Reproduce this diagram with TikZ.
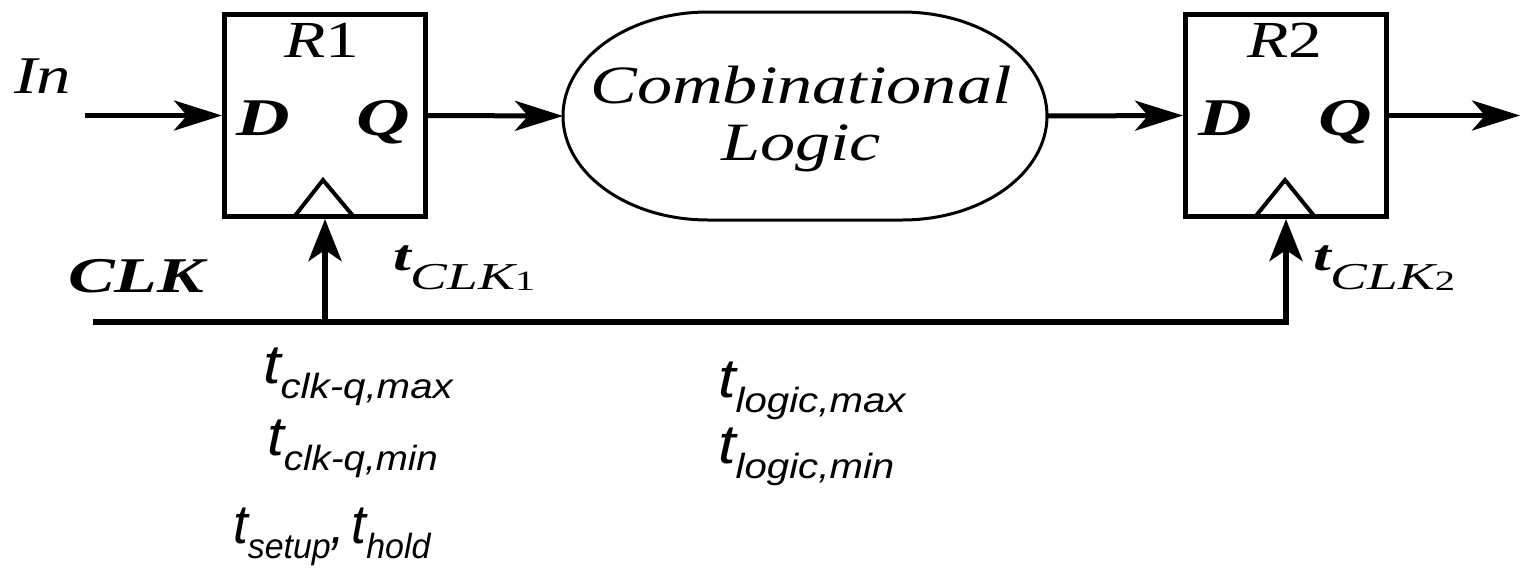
\documentclass[tikz,border=0pt]{standalone}
\usepackage{fontspec}
\setmainfont{Liberation Serif}
\newfontfamily\sansfam{Liberation Sans}
\usetikzlibrary{arrows.meta,calc}
\newcommand\sx[2]{\scalebox{#1}[1]{#2}}
\newcommand\fs[1]{\fontsize{#1}{#1}\selectfont}
\newcommand\tlab[1]{{\fs{55}t}\raisebox{-15pt}{\fs{35}#1}}
\begin{document}
\begin{tikzpicture}[x=1pt,y=-1pt,
  reg/.style={draw, line width=5pt, minimum width=201pt, minimum height=202pt, inner sep=0pt, line join=miter},
  txt/.style={inner sep=0pt, outer sep=0pt},
  wire/.style={line width=5pt, -{Stealth[length=48pt,width=30pt,inset=13pt]}},
  clkw/.style={line width=6pt, line join=miter, -{Stealth[length=42pt,width=33pt,inset=11pt]}},
  tri/.style={line width=4pt, line join=miter},
  oval/.style={line width=3pt},
]
\useasboundingbox (0,0) rectangle (1520,576);

% registers
\node[reg] (r1) at (325,115.5) {};
\node[reg] (r2) at (1286,115.5) {};
% combinational logic shape
\node[txt, minimum width=484pt, minimum height=208pt] (logic) at (805,116) {};
\draw[oval] ([xshift=145pt]logic.north west) -- ([xshift=-145pt]logic.north east)
  arc[start angle=-90,end angle=90,x radius=145,y radius=104]
  -- ([xshift=145pt]logic.south west)
  arc[start angle=90,end angle=270,x radius=145,y radius=104] -- cycle;

% clock triangles
\draw[tri] ($(r1.south)+(-31,-2)$) -- ($(r1.south)+(-2,-39)$) -- ($(r1.south)+(29,-2)$);
\draw[tri] ($(r2.south)+(-31,-2)$) -- ($(r2.south)+(-1,-39)$) -- ($(r2.south)+(29,-2)$);

% texts in the blocks
\node[txt, anchor=base] (r1name) at (322,57) {\sx{1.3}{\fs{52}\itshape R\upshape 1}};
\node[txt, anchor=base] (r2name) at (1285,57) {\sx{1.3}{\fs{52}\itshape R\upshape 2}};
\node[txt, anchor=base] (r1d) at (263,135) {\sx{1.4}{\fs{53}\bfseries\itshape D}};
\node[txt, anchor=base] (r1q) at (383,135) {\sx{1.4}{\fs{53}\bfseries\itshape Q}};
\node[txt, anchor=base] (r2d) at (1225,135) {\sx{1.4}{\fs{53}\bfseries\itshape D}};
\node[txt, anchor=base] (r2q) at (1345,135) {\sx{1.4}{\fs{53}\bfseries\itshape Q}};
\node[txt, anchor=base] (comb) at (801,103) {\sx{1.3}{\fs{54}\itshape Combinational}};
\node[txt, anchor=base] (logictext) at (801,160) {\sx{1.3}{\fs{54}\itshape Logic}};

% data wires
\coordinate (inL) at (85,115.5);
\coordinate (outR) at (1520,115.5);
\draw[wire] (inL) -- (r1.west);
\draw[wire] (r1.east) -- (logic.west);
\draw[wire] (logic.east) -- (r2.west);
\draw[wire] (r2.east) -- (outR);

% clock
\coordinate (ck) at (93,322);
\draw[clkw] (ck) -| (r2.south);
\draw[clkw] (r1.south |- ck) -- (r1.south);

% labels
\node[txt, anchor=base west] (inlab) at (14,93) {\sx{1.3}{\fs{53}\itshape In}};
\node[txt, anchor=base west] (clklab) at (68,292) {\sx{1.4}{\fs{50}\bfseries\itshape CLK}};
\node[txt, anchor=base west] (tclk1) at (393,270) {\sx{1.45}{\fs{44}\bfseries\itshape t\raisebox{-19pt}{\mdseries\fs{38}CLK\raisebox{-1pt}{\upshape\fs{28}1}}}};
\node[txt, anchor=base west] (tclk2) at (1313,270) {\sx{1.45}{\fs{44}\bfseries\itshape t\raisebox{-19pt}{\mdseries\fs{38}CLK\raisebox{-1pt}{\upshape\fs{28}2}}}};

\node[txt, anchor=base west] (tcq1) at (263,383) {\sx{1.15}{\sansfam\itshape\tlab{clk-q,max}}};
\node[txt, anchor=base west] (tcq2) at (267,455) {\sx{1.1}{\sansfam\itshape\tlab{clk-q,min}}};
\node[txt, anchor=base west] (tsh) at (233,543) {\sx{0.97}{\sansfam\itshape\tlab{setup}{\fs{55},}\hspace{6pt}\tlab{hold}}};
\node[txt, anchor=base west] (tl1) at (718,397) {\sx{1.15}{\sansfam\itshape\tlab{logic,max}}};
\node[txt, anchor=base west] (tl2) at (718,463) {\sx{1.15}{\sansfam\itshape\tlab{logic,min}}};
\end{tikzpicture}
\end{document}
